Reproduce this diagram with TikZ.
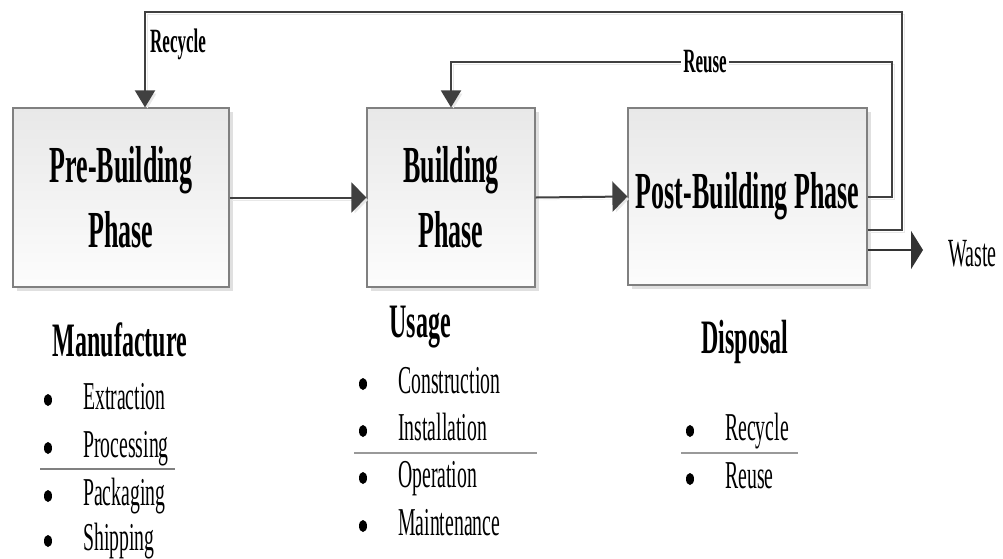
\documentclass[tikz,border=0pt]{standalone}
\usepackage{fontspec}
\setmainfont{Liberation Serif}[FakeStretch=0.5]
\usetikzlibrary{arrows.meta,shadows,shapes.geometric,calc}

\begin{document}
\begin{tikzpicture}[x=1pt,y=-1pt,
  phase/.style={draw=black!50, line width=1.2pt, top color=black!9, bottom color=black!1,
    general shadow={fill=black!12, shadow xshift=4pt, shadow yshift=-4pt},
    align=center, inner sep=0pt, font=\fontsize{52}{65}\selectfont\bfseries},
  conn/.style={draw=black!75, line width=2pt,
    preaction={draw=black!9, transform canvas={shift={(2.5pt,-2.5pt)}}}},
  harrow/.style={-{Triangle[length=15pt,width=30pt]}},
  varrow/.style={-{Triangle[length=17pt,width=20pt]}},
  wastearrow/.style={draw=black!80, line width=2.6pt, -{Triangle[length=12pt,width=38pt]}},
  lbl/.style={inner sep=0pt, font=\fontsize{34}{40}\selectfont\bfseries},
  heading/.style={inner sep=0pt, anchor=base, font=\fontsize{48}{54}\selectfont\bfseries},
  item/.style={inner sep=0pt, anchor=base west, font=\fontsize{39.5}{45}\selectfont},
  bul/.style={ellipse, fill=black, minimum width=8pt, minimum height=12pt, inner sep=0pt},
  sep/.style={draw=black!50, line width=1.5pt}
]
\useasboundingbox (0,0) rectangle (1003,558);

% the three phases
\node[phase, minimum width=216pt, minimum height=179pt] (pre)   at (121,197.5)   {Pre-Building\\Phase};
\node[phase, minimum width=168pt, minimum height=179pt] (build) at (451,197.5)   {Building\\Phase};
\node[phase, minimum width=239pt, minimum height=177pt] (post)  at (747.5,196.5) {Post-Building Phase};

% forward flow
\draw[conn, harrow] (pre.east) -- (build.west);
\draw[conn, harrow] (build.east) -- (post.west);

% reuse loop back into the building phase
\coordinate (reuseCorner) at (892,62);
\draw[conn, varrow] (post.east) -| (reuseCorner) -| (build.north);
\node[lbl, fill=white, inner xsep=2pt] (reuseLbl) at (705,62) {Reuse};

% recycle loop back into the pre-building phase
\coordinate (recStart) at ($(post.east)+(0,33.5)$);
\coordinate (recCorner) at (902,12);
\coordinate (recEnd) at ($(pre.north)+(24,0)$);
\draw[conn, varrow] (recStart) -| (recCorner) -| (recEnd);
\node[lbl, anchor=base west] (recLbl) at (150,52) {Recycle};

% waste output
\node[inner sep=0pt, anchor=base west, font=\fontsize{40}{45}\selectfont] (waste) at (948,266) {Waste};
\coordinate (wasteStart) at ($(post.east)+(0,53.5)$);
\coordinate (wasteTip) at (923,250);
\draw[wastearrow] (wasteStart) -- (wasteTip);

% manufacture
\node[heading] (manu) at (120,356) {Manufacture};
\node[bul] (m1b) at (48,400) {};
\node[item] (m1) at (83,409) {Extraction};
\node[bul] (m2b) at (48,448) {};
\node[item] (m2) at (83,457) {Processing};
\draw[sep] (40,469) -- (175,469);
\node[bul] (m3b) at (48,496) {};
\node[item] (m3) at (83,505) {Packaging};
\node[bul] (m4b) at (48,541) {};
\node[item] (m4) at (83,550) {Shipping};

% usage
\node[heading] (usage) at (420,337) {Usage};
\node[bul] (u1b) at (363,384) {};
\node[item] (u1) at (398,393) {Construction};
\node[bul] (u2b) at (363,431) {};
\node[item] (u2) at (398,440) {Installation};
\draw[sep, draw=black!40] (354,453) -- (537,453);
\node[bul] (u3b) at (363,478) {};
\node[item] (u3) at (398,487) {Operation};
\node[bul] (u4b) at (363,526) {};
\node[item] (u4) at (398,535) {Maintenance};

% disposal
\node[heading] (disp) at (745,353) {Disposal};
\node[bul] (d1b) at (690,431) {};
\node[item] (d1) at (725,440) {Recycle};
\draw[sep, draw=black!40] (681,453) -- (798,453);
\node[bul] (d2b) at (690,479) {};
\node[item] (d2) at (725,488) {Reuse};
\end{tikzpicture}
\end{document}
